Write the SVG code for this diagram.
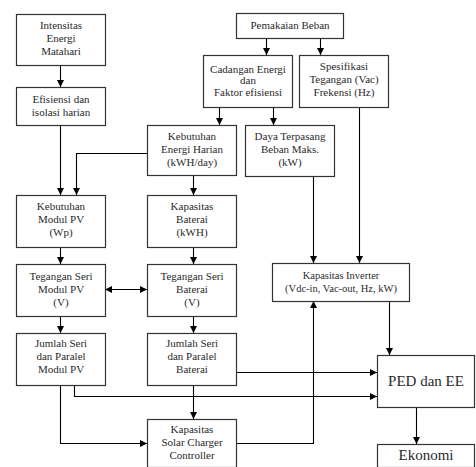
<svg xmlns="http://www.w3.org/2000/svg" width="476" height="467" viewBox="0 0 476 467">
<defs>
<marker id="ah" viewBox="0 0 10 10" refX="10" refY="5" markerWidth="7" markerHeight="7" markerUnits="userSpaceOnUse" orient="auto-start-reverse"><path d="M0,0 L10,5 L0,10 z" fill="#000"/></marker>
<style>
rect{fill:#fff;stroke:#333;stroke-width:1.2}
text{font-family:"Liberation Serif","DejaVu Serif",serif;font-size:11px;fill:#2a2a2a;text-anchor:middle}
.c path{fill:none;stroke:#000;stroke-width:1.1}
.big{font-size:15px}
.mid{font-size:15px}
.inv{font-size:10.5px}
</style>
</defs>
<rect x="0" y="0" width="476" height="467" style="fill:#fff;stroke:none"/>
<g class="c">
<path d="M60.5,65 V87" marker-end="url(#ah)"/>
<path d="M266.5,38 V55" marker-end="url(#ah)"/>
<path d="M320.5,38 V55" marker-end="url(#ah)"/>
<path d="M219.5,107 V125" marker-end="url(#ah)"/>
<path d="M273.5,107 V125" marker-end="url(#ah)"/>
<path d="M60.5,125 V195" marker-end="url(#ah)"/>
<path d="M147,153.5 H76.5 V195" marker-end="url(#ah)"/>
<path d="M193.5,175 V195" marker-end="url(#ah)"/>
<path d="M313.5,176 V263" marker-end="url(#ah)"/>
<path d="M359.5,107 V263" marker-end="url(#ah)"/>
<path d="M60.5,247 V264" marker-end="url(#ah)"/>
<path d="M193.5,247 V264" marker-end="url(#ah)"/>
<path d="M105,289.5 H147" marker-start="url(#ah)" marker-end="url(#ah)"/>
<path d="M60.5,316 V333" marker-end="url(#ah)"/>
<path d="M193.5,316 V333" marker-end="url(#ah)"/>
<path d="M60.5,385 V443.5 H147" marker-end="url(#ah)"/>
<path d="M74.5,385 V396.5 H377" marker-end="url(#ah)"/>
<path d="M236,372.5 H377" marker-end="url(#ah)"/>
<path d="M193.5,385 V419" marker-end="url(#ah)"/>
<path d="M236,443.5 H313.5 V301" marker-end="url(#ah)"/>
<path d="M389.5,301 V355" marker-end="url(#ah)"/>
<path d="M416.5,407 V444" marker-end="url(#ah)"/>
</g>
<g id="intensitas"><rect x="16.5" y="14.5" width="89" height="51"/><text x="61" y="29">Intensitas</text><text x="61" y="42">Energi</text><text x="61" y="55">Matahari</text></g>
<g id="efisiensi"><rect x="16.5" y="87.5" width="89" height="38"/><text x="61" y="103">Efisiensi dan</text><text x="61" y="116">isolasi harian</text></g>
<g id="pemakaian"><rect x="236.5" y="13.5" width="107" height="25"/><text x="290" y="29">Pemakaian Beban</text></g>
<g id="cadangan"><rect x="203.5" y="55.5" width="89" height="52"/><text x="248" y="73">Cadangan Energi</text><text x="248" y="84">dan</text><text x="248" y="96">Faktor efisiensi</text></g>
<g id="spesifikasi"><rect x="299.5" y="55.5" width="89" height="52"/><text x="344" y="70">Spesifikasi</text><text x="344" y="83">Tegangan (Vac)</text><text x="344" y="96">Frekensi (Hz)</text></g>
<g id="kebutuhan-energi"><rect x="147.5" y="125.5" width="89" height="50"/><text x="192" y="140">Kebutuhan</text><text x="192" y="153">Energi Harian</text><text x="192" y="166">(kWH/day)</text></g>
<g id="daya"><rect x="245.5" y="125.5" width="89" height="51"/><text x="290" y="140">Daya Terpasang</text><text x="290" y="153">Beban Maks.</text><text x="290" y="166">(kW)</text></g>
<g id="kebutuhan-pv"><rect x="16.5" y="195.5" width="89" height="52"/><text x="61" y="210">Kebutuhan</text><text x="61" y="223">Modul PV</text><text x="61" y="236">(Wp)</text></g>
<g id="kapasitas-baterai"><rect x="147.5" y="195.5" width="89" height="52"/><text x="192" y="210">Kapasitas</text><text x="192" y="223">Baterai</text><text x="192" y="236">(kWH)</text></g>
<g id="tegangan-pv"><rect x="16.5" y="264.5" width="89" height="52"/><text x="61" y="280">Tegangan Seri</text><text x="61" y="293">Modul PV</text><text x="61" y="306">(V)</text></g>
<g id="tegangan-baterai"><rect x="147.5" y="264.5" width="89" height="52"/><text x="192" y="280">Tegangan Seri</text><text x="192" y="293">Baterai</text><text x="192" y="306">(V)</text></g>
<g id="inverter"><rect x="272.5" y="263.5" width="137" height="38"/><text class="inv" x="341" y="279">Kapasitas Inverter</text><text class="inv" x="341" y="292">(Vdc-in, Vac-out, Hz, kW)</text></g>
<g id="jumlah-pv"><rect x="16.5" y="333.5" width="89" height="52"/><text x="61" y="347">Jumlah Seri</text><text x="61" y="360">dan Paralel</text><text x="61" y="373">Modul PV</text></g>
<g id="jumlah-baterai"><rect x="147.5" y="333.5" width="89" height="52"/><text x="192" y="347">Jumlah Seri</text><text x="192" y="360">dan Paralel</text><text x="192" y="373">Baterai</text></g>
<g id="ped"><rect x="377.5" y="355.5" width="97" height="52"/><text class="big" x="426" y="386">PED dan EE</text></g>
<g id="scc"><rect x="147.5" y="419.5" width="89" height="48"/><text x="192" y="433">Kapasitas</text><text x="192" y="446">Solar Charger</text><text x="192" y="459">Controller</text></g>
<g id="ekonomi"><rect x="377.5" y="444.5" width="97" height="23"/><text class="mid" x="426" y="460">Ekonomi</text></g>
</svg>
